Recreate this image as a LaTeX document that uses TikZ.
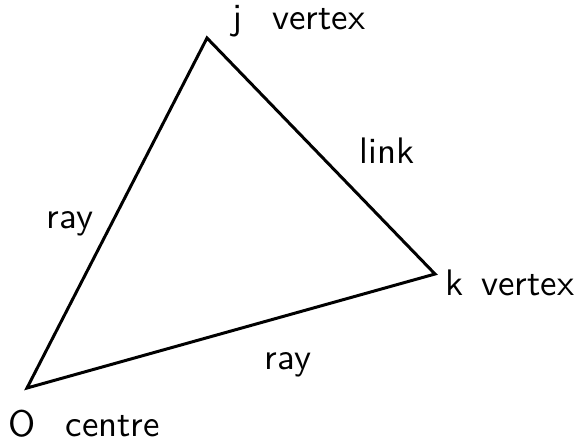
\documentclass[tikz,border=0pt]{standalone}
\usepackage{tikz}
\usetikzlibrary{positioning}

\tikzset{
  lbl/.style={font=\sffamily\fontsize{10.5}{12}\selectfont, inner sep=0pt, anchor=base west},
  edge/.style={draw, line width=0.85pt, line join=miter}
}

\begin{document}
\begin{tikzpicture}
  \useasboundingbox (0,0) rectangle (5.75,4.46);
  % triangle corners
  \coordinate (O) at (0.27,0.58);
  \coordinate (j) at (2.07,4.08);
  \coordinate (k) at (4.35,1.72);
  \path[edge] (O) -- (j) -- (k) -- cycle;
  % labels
  \node[lbl] (jlab) at (2.32,4.17) {j\hspace{8.5pt}vertex};
  \node[lbl] (klab) at (4.45,1.51) {k\hspace{5pt}vertex};
  \node[lbl] (Olab) at (0.08,0.10) {O\hspace{8.5pt}centre};
  \node[lbl] (link) at (3.59,2.83) {link};
  \node[lbl] (rayl) at (0.46,2.18) {ray};
  \node[lbl] (rayb) at (2.64,0.77) {ray};
\end{tikzpicture}
\end{document}
